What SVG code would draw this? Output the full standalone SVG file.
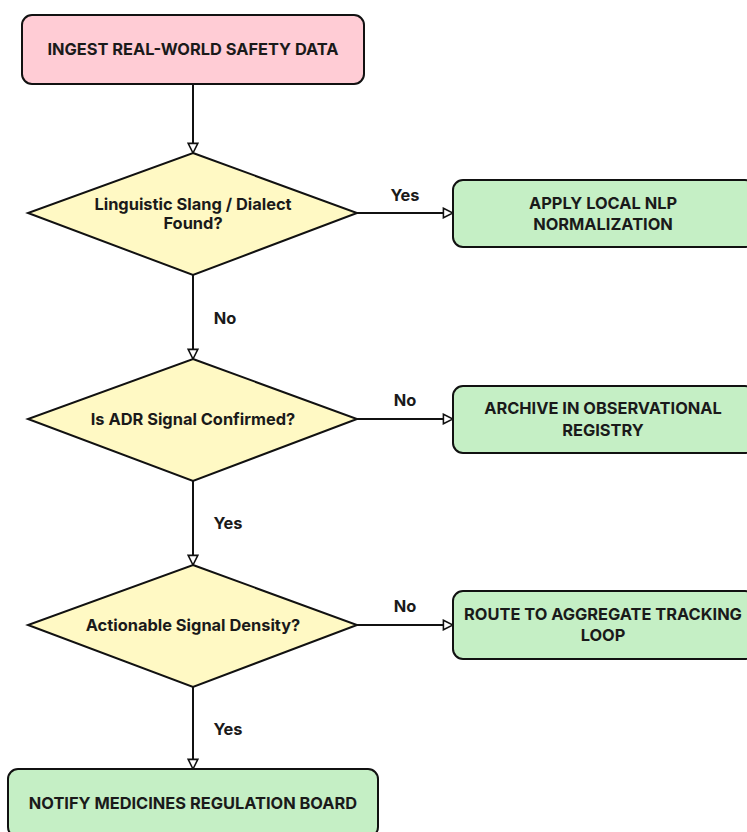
<svg xmlns="http://www.w3.org/2000/svg" width="747" height="832" viewBox="0 0 747 832">
<defs>
<style>
.box{stroke:#111;stroke-width:2}
.pink{fill:#ffccd5}
.green{fill:#c5efc5}
.dia{fill:#fff9c4;stroke:#111;stroke-width:2}
.t{font-family:Inter,"Liberation Sans",sans-serif;font-weight:700;font-size:16.4px;fill:#1a1a1a;text-anchor:middle;dominant-baseline:central}
.lbl{font-family:Inter,"Liberation Sans",sans-serif;font-weight:700;font-size:16.4px;fill:#1a1a1a;text-anchor:middle;dominant-baseline:central}
.edge{stroke:#111;stroke-width:2;fill:none;marker-end:url(#arr)}
</style>
<marker id="arr" viewBox="0 0 10 10" refX="9" refY="5" markerWidth="6" markerHeight="6" orient="auto" markerUnits="strokeWidth">
<path d="M1,1 L9,5 L1,9 Z" fill="#fff" stroke="#111" stroke-width="1.3"/>
</marker>
</defs>
<rect width="747" height="832" fill="#fff"/>
<g id="edges">
<path class="edge" d="M193,84 V153"/>
<path class="edge" d="M357,213 H453"/>
<path class="edge" d="M193,275 V359"/>
<path class="edge" d="M357,419 H453"/>
<path class="edge" d="M193,481 V565"/>
<path class="edge" d="M357,625 H453"/>
<path class="edge" d="M193,687 V769"/>
<text class="lbl" x="405" y="195">Yes</text>
<text class="lbl" x="225" y="318">No</text>
<text class="lbl" x="405" y="400">No</text>
<text class="lbl" x="228" y="523">Yes</text>
<text class="lbl" x="405" y="606">No</text>
<text class="lbl" x="228" y="729">Yes</text>
</g>
<g id="n1">
<rect class="box pink" x="22" y="15" width="342" height="69" rx="10"/>
<text class="t" x="193" y="49">INGEST REAL-WORLD SAFETY DATA</text>
</g>
<g id="d1">
<polygon class="dia" points="193,153 357,213 193,275 28,213"/>
<text class="t" x="193" y="204">Linguistic Slang / Dialect</text>
<text class="t" x="193" y="223">Found?</text>
</g>
<g id="n2">
<rect class="box green" x="453" y="180" width="302" height="67" rx="10"/>
<text class="t" x="603" y="203">APPLY LOCAL NLP</text>
<text class="t" x="603" y="224">NORMALIZATION</text>
</g>
<g id="d2">
<polygon class="dia" points="193,359 357,419 193,481 28,419"/>
<text class="t" x="193" y="419">Is ADR Signal Confirmed?</text>
</g>
<g id="n3">
<rect class="box green" x="453" y="386" width="302" height="67" rx="10"/>
<text class="t" x="603" y="408">ARCHIVE IN OBSERVATIONAL</text>
<text class="t" x="603" y="430">REGISTRY</text>
</g>
<g id="d3">
<polygon class="dia" points="193,565 357,625 193,687 28,625"/>
<text class="t" x="193" y="625">Actionable Signal Density?</text>
</g>
<g id="n4">
<rect class="box green" x="453" y="591" width="302" height="68" rx="10"/>
<text class="t" x="603" y="614">ROUTE TO AGGREGATE TRACKING</text>
<text class="t" x="603" y="635">LOOP</text>
</g>
<g id="n5">
<rect class="box green" x="8" y="769" width="370" height="68" rx="10"/>
<text class="t" x="193" y="803">NOTIFY MEDICINES REGULATION BOARD</text>
</g>
</svg>
